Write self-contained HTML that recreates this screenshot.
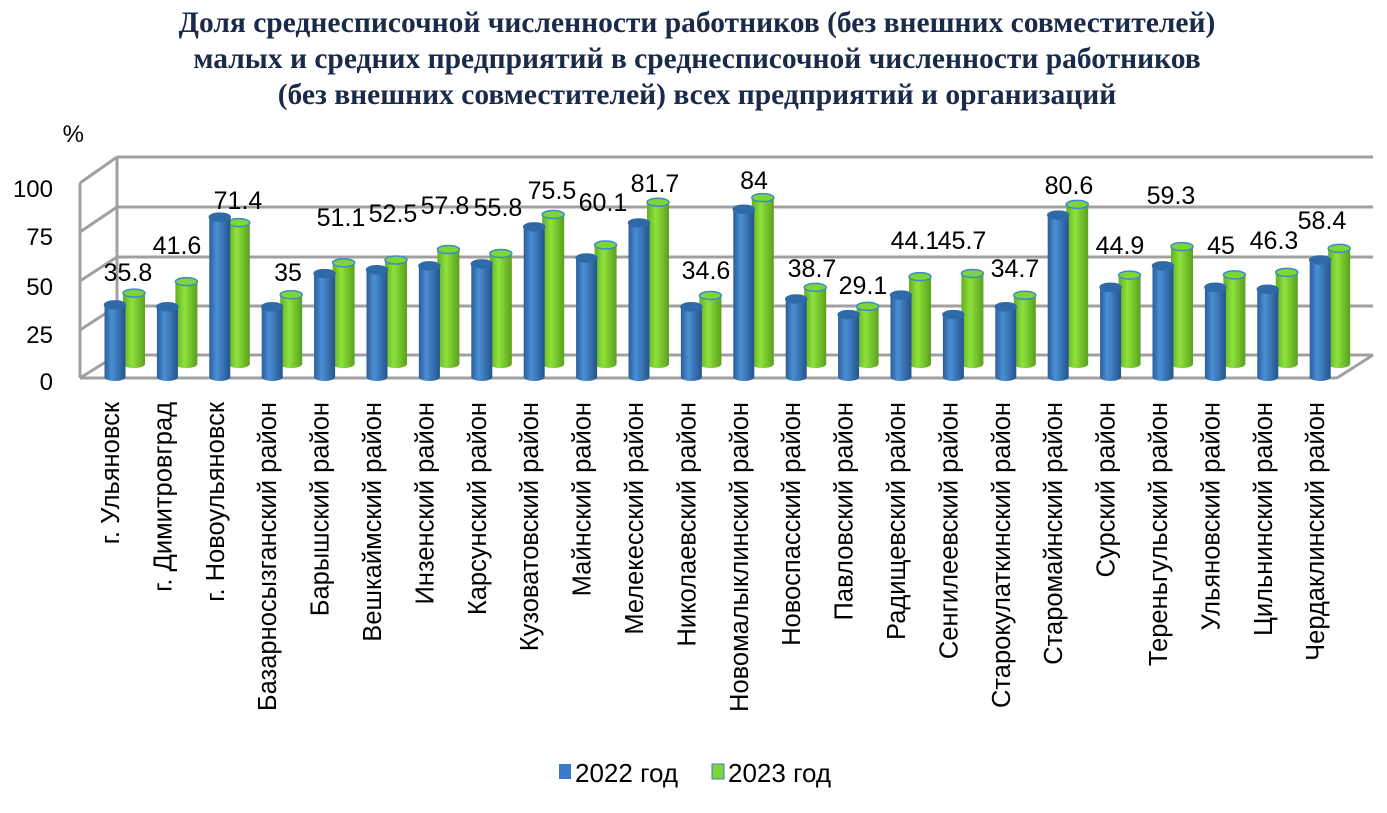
<!DOCTYPE html>
<html><head><meta charset="utf-8"><style>
html,body{margin:0;padding:0;background:#fff;}
svg{display:block;}
</style></head><body>
<svg width="1387" height="813" xmlns="http://www.w3.org/2000/svg">
<defs>
<linearGradient id="gb" x1="0" x2="1" y1="0" y2="0">
<stop offset="0" stop-color="#2a5d9a"/><stop offset="0.35" stop-color="#4a8fd4"/><stop offset="1" stop-color="#24548c"/></linearGradient>
<linearGradient id="gg" x1="0" x2="1" y1="0" y2="0">
<stop offset="0" stop-color="#62b020"/><stop offset="0.4" stop-color="#8ee23c"/><stop offset="1" stop-color="#5aa01c"/></linearGradient>
</defs>
<g font-family="'Liberation Serif','DejaVu Serif',serif" font-weight="bold" font-size="29.5" fill="#1a2a48" text-anchor="middle">
<text x="697" y="32">Доля среднесписочной численности работников (без внешних совместителей)</text>
<text x="697" y="68">малых и средних предприятий в среднесписочной численности работников</text>
<text x="697" y="104">(без внешних совместителей) всех предприятий и организаций</text>
</g>
<g stroke="#a0a0a0" stroke-width="3" fill="none">
<line x1="117" y1="157" x2="1373" y2="157"/>
<line x1="117" y1="207" x2="1373" y2="207"/>
<line x1="117" y1="257" x2="1373" y2="257"/>
<line x1="117" y1="306" x2="1373" y2="306"/>
<line x1="117" y1="355" x2="1373" y2="355"/>
<line x1="80" y1="183" x2="117" y2="157"/>
<line x1="80" y1="232" x2="117" y2="207"/>
<line x1="80" y1="281" x2="117" y2="257"/>
<line x1="80" y1="330" x2="117" y2="306"/>
<line x1="80" y1="378" x2="117" y2="355"/>
<line x1="117" y1="157" x2="117" y2="355"/>
<line x1="80" y1="183" x2="80" y2="378"/>
<line x1="80" y1="378" x2="1337" y2="378"/>
<line x1="1337" y1="378" x2="1373" y2="355"/>
</g>
<g font-family="'Liberation Sans',sans-serif" font-size="24" fill="#000" text-anchor="end">
<text x="53" y="197">100</text><text x="53" y="245">75</text><text x="53" y="295">50</text><text x="53" y="343">25</text><text x="53" y="390">0</text>
<text x="84" y="142">%</text>
</g>
<g id="bars"></g>
<g id="labels" font-family="'Liberation Sans',sans-serif" font-size="25" fill="#000" text-anchor="middle"></g>
<g id="cats" font-family="'Liberation Sans',sans-serif" font-size="25.5" fill="#000" text-anchor="end"></g>
<g font-family="'Liberation Sans',sans-serif" font-size="26" fill="#000">
<rect x="559" y="764" width="12" height="15" fill="#3a7bc8"/><text x="575" y="782">2022 год</text>
<rect x="712" y="764" width="12" height="15" fill="#7ed636" stroke="#3a7bc8" stroke-width="1"/><text x="728" y="782">2023 год</text>
</g>
<script>
var names=["г. Ульяновск","г. Димитровград","г. Новоульяновск","Базарносызганский район","Барышский район","Вешкаймский район","Инзенский район","Карсунский район","Кузоватовский район","Майнский район","Мелекесский район","Николаевский район","Новомалыклинский район","Новоспасский район","Павловский район","Радищевский район","Сенгилеевский район","Старокулаткинский район","Старомайнский район","Сурский район","Тереньгульский район","Ульяновский район","Цильнинский район","Чердаклинский район"];
var g=[35.8,41.6,71.4,35,51.1,52.5,57.8,55.8,75.5,60.1,81.7,34.6,84,38.7,29.1,44.1,45.7,34.7,80.6,44.9,59.3,45,46.3,58.4];
var b=[37,36,82,36,53,55,57,58,77,61,79,36,86,40,32,42,32,36,83,46,57,46,45,60];
var ly=[272,245,200,272,217,213,205,207,190,202,183,270,180,268,285,240,240,268,185,245,195,245,240,220];
var lx=[128,177,238,288,341,393,445,498,552,603,655,706,754,812,863,915,962,1015,1069,1120,1171,1221,1274,1322];
var ns="http://www.w3.org/2000/svg";
function el(t,a,p){var e=document.createElementNS(ns,t);for(var k in a)e.setAttribute(k,a[k]);p.appendChild(e);return e;}
var B=document.getElementById("bars"),L=document.getElementById("labels"),C=document.getElementById("cats");
function cyl(cx,base,h,w,fill,top,edge){var x=cx-w/2,t=base-h;
el("rect",{x:x,y:t,width:w,height:h,fill:fill},B);
el("ellipse",{cx:cx,cy:base,rx:w/2,ry:4,fill:fill},B);
el("ellipse",{cx:cx,cy:t,rx:w/2,ry:4,fill:top,stroke:edge,"stroke-width":1.5},B);}
for(var i=0;i<24;i++){var c=115+i*52.4;
cyl(c+19,364,g[i]*1.98,22,"url(#gg)","#7ed636","#3a8ad0");
cyl(c,377,b[i]*1.95,21,"url(#gb)","#2f6aa8","#2f6aa8");
var t=el("text",{x:lx[i],y:ly[i]+9},L);t.textContent=g[i];
var n=el("text",{transform:"translate("+(c+4)+",402) rotate(-90)"},C);n.textContent=names[i];}
</script>
</svg>
</body></html>
